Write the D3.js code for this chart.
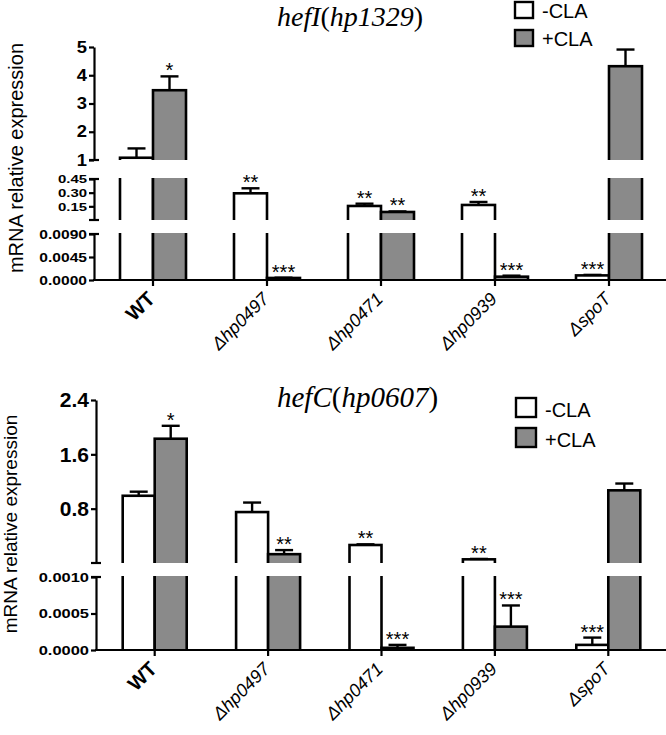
<!DOCTYPE html>
<html>
<head>
<meta charset="utf-8">
<script src="https://cdn.jsdelivr.net/npm/d3@7"></script>
<style>
  body { margin: 0; background: #fff; }
  #chart { position: relative; width: 666px; height: 735px; }
  svg { display: block; font-family: Arial, "Liberation Sans", sans-serif; }
  .xlab {
    position: absolute;
    white-space: nowrap;
    line-height: 1;
    font-family: Arial, "Liberation Sans", sans-serif;
    color: #000;
  }
</style>
</head>
<body>
<div id="chart"></div>
<script>
const categories = ["WT", "Δhp0497", "Δhp0471", "Δhp0939", "ΔspoT"];
const series = ["-CLA", "+CLA"];

// hefI(hp1329)
const hefIMinus = [1.08, 0.293, 0.154, 0.165, 0.0009];
const hefIMinusErr = [0.33, 0.055, 0.025, 0.033, 0.0001];
const hefIPlus = [3.47, 0.0004, 0.088, 0.00065, 4.32];
const hefIPlusErr = [0.49, 0.00005, 0.006, 0.0002, 0.59];
const hefIStarsMinus = ["", "**", "**", "**", "***"];
const hefIStarsPlus = ["*", "***", "**", "***", ""];

// hefC(hp0607)
const hefCMinus = [0.99, 0.75, 0.265, 0.054, 0.00007];
const hefCMinusErr = [0.06, 0.14, 0.01, 0.006, 0.0001];
const hefCPlus = [1.83, 0.13, 0.00003, 0.00032, 1.07];
const hefCPlusErr = [0.19, 0.06, 0.00004, 0.00029, 0.1];
const hefCStarsMinus = ["", "", "**", "**", "***"];
const hefCStarsPlus = ["*", "**", "***", "***", ""];

// broken y axis ticks
const hefITicks = [[1, 2, 3, 4, 5], [0.15, 0.3, 0.45], [0, 0.0045, 0.009]];
const hefCTicks = [[0.8, 1.6, 2.4], [0, 0.0005, 0.001]];

const width = 666;
const height = 735;
const grey = "#8a8a8a";

const chart = d3.select("#chart");
const svg = chart
  .append("svg")
  .attr("width", width)
  .attr("height", height);

const panels = [
  {
    id: "hefI",
    gene: "hefI",
    locus: "hp1329",
    titleY: 26,
    titleSize: 28,
    axisX: 94,
    xRange: [96, 666],
    barW: 33,
    baseY: 280,
    minus: hefIMinus,
    minusErr: hefIMinusErr,
    plus: hefIPlus,
    plusErr: hefIPlusErr,
    starsMinus: hefIStarsMinus,
    starsPlus: hefIStarsPlus,
    segments: [
      { lo: 1, hi: 5, y0: 160, y1: 47, ticks: hefITicks[0], fmt: d3.format("d"), size: 16, sx: 1.15 },
      { lo: 0, hi: 0.45, y0: 220, y1: 179, ticks: hefITicks[1], fmt: d3.format(".2f"), size: 11.5, sx: 1.3 },
      { lo: 0, hi: 0.009, y0: 280, y1: 234, ticks: hefITicks[2], fmt: d3.format(".4f"), size: 13, sx: 1.2 },
    ],
    legend: { x: 515, y: 2, w: 18, h: 16, gap: 28 },
    ylab: { x: 23, y: 158, size: 20 },
  },
  {
    id: "hefC",
    gene: "hefC",
    locus: "hp0607",
    titleY: 407,
    titleSize: 29,
    axisX: 96,
    xRange: [98, 665],
    barW: 32,
    baseY: 650,
    minus: hefCMinus,
    minusErr: hefCMinusErr,
    plus: hefCPlus,
    plusErr: hefCPlusErr,
    starsMinus: hefCStarsMinus,
    starsPlus: hefCStarsPlus,
    segments: [
      { lo: 0, hi: 2.4, y0: 563, y1: 400, ticks: hefCTicks[0], fmt: d3.format(".1f"), size: 21, sx: 1 },
      { lo: 0, hi: 0.001, y0: 650, y1: 577, ticks: hefCTicks[1], fmt: d3.format(".4f"), size: 13.5, sx: 1.22 },
    ],
    legend: { x: 516, y: 398, w: 20, h: 19, gap: 30 },
    ylab: { x: 17, y: 524, size: 19 },
  },
];

const defs = svg.append("defs");

panels.forEach(drawPanel);

function drawPanel(p) {
  const g = svg.append("g");
  const segs = p.segments;

  const x0 = d3.scaleBand().domain(categories).range(p.xRange);
  const x1 = d3.scaleBand().domain(series).range([0, 2 * p.barW]);
  const barX = (cat, s) => x0(cat) + x0.bandwidth() / 2 - p.barW + x1(s);

  // which segment of the broken axis a value lives in
  const segIndex = (v) => {
    for (let i = 0; i < segs.length - 1; i++) {
      if (v > segs[i + 1].hi) return i;
    }
    return segs.length - 1;
  };

  segs.forEach((seg) => {
    seg.y = d3.scaleLinear().domain([seg.lo, seg.hi]).range([seg.y0, seg.y1]);
  });

  const bars = [];
  categories.forEach((cat, j) => {
    bars.push({ cat, s: "-CLA", v: p.minus[j], err: p.minusErr[j], star: p.starsMinus[j], fill: "#fff" });
    bars.push({ cat, s: "+CLA", v: p.plus[j], err: p.plusErr[j], star: p.starsPlus[j], fill: grey });
  });
  bars.forEach((b) => (b.k = segIndex(b.v)));

  // bars, clipped segment by segment
  segs.forEach((seg, i) => {
    const clipId = `clip-${p.id}-${i}`;
    defs
      .append("clipPath")
      .attr("id", clipId)
      .append("rect")
      .attr("x", 0)
      .attr("y", seg.y1 - 1)
      .attr("width", width)
      .attr("height", seg.y0 - seg.y1 + 1);

    const sg = g.append("g").attr("clip-path", `url(#${clipId})`);
    sg.selectAll("rect")
      .data(bars.filter((b) => b.k <= i))
      .join("rect")
      .attr("x", (b) => barX(b.cat, b.s))
      .attr("width", x1.bandwidth())
      .attr("y", (b) => (b.k < i ? seg.y1 - 10 : seg.y(b.v)))
      .attr("height", (b) => seg.y0 + 10 - (b.k < i ? seg.y1 - 10 : seg.y(b.v)))
      .attr("fill", (b) => b.fill)
      .attr("stroke", "#000")
      .attr("stroke-width", 2.6);
  });

  // error bars + significance stars
  bars.forEach((b) => {
    const ys = segs[b.k].y;
    const cx = barX(b.cat, b.s) + x1.bandwidth() / 2;
    const yTop = ys(b.v + b.err);
    g.append("line")
      .attr("x1", cx)
      .attr("x2", cx)
      .attr("y1", ys(b.v))
      .attr("y2", yTop)
      .attr("stroke", "#000")
      .attr("stroke-width", 2.4);
    g.append("line")
      .attr("x1", cx - 9)
      .attr("x2", cx + 9)
      .attr("y1", yTop)
      .attr("y2", yTop)
      .attr("stroke", "#000")
      .attr("stroke-width", 2.4);
    if (b.star) {
      g.append("text")
        .attr("x", cx)
        .attr("y", yTop + 1)
        .attr("text-anchor", "middle")
        .style("font-size", "20px")
        .text(b.star);
    }
  });

  // y axis pieces
  segs.forEach((seg, i) => {
    const ax = g
      .append("g")
      .attr("transform", `translate(${p.axisX},0)`)
      .call(
        d3.axisLeft(seg.y).tickValues(seg.ticks).tickFormat(seg.fmt).tickSize(5).tickSizeOuter(0)
      );
    ax.select(".domain").attr("stroke-width", 2.2);
    ax.selectAll(".tick line").attr("stroke-width", 2.2);
    ax.selectAll(".tick text")
      .attr("x", -7 / seg.sx)
      .attr("transform", `scale(${seg.sx},1)`)
      .attr("fill", "#000")
      .style("font-family", "Arial, 'Liberation Sans', sans-serif")
      .style("font-weight", "bold")
      .style("font-size", seg.size + "px");

    // caps where the axis is broken
    const caps = [];
    if (i > 0) caps.push(seg.y1);
    if (i < segs.length - 1) caps.push(seg.y0);
    caps.forEach((cy) => {
      g.append("line")
        .attr("x1", p.axisX - 5)
        .attr("x2", p.axisX + 5)
        .attr("y1", cy)
        .attr("y2", cy)
        .attr("stroke", "#000")
        .attr("stroke-width", 2.2);
    });
  });

  // x axis
  g.append("line")
    .attr("x1", p.axisX - 1)
    .attr("x2", width)
    .attr("y1", p.baseY)
    .attr("y2", p.baseY)
    .attr("stroke", "#000")
    .attr("stroke-width", 2.2);

  const xa = g
    .append("g")
    .attr("transform", `translate(0,${p.baseY})`)
    .call(d3.axisBottom(x0).tickSize(6).tickSizeOuter(0));
  xa.select(".domain").remove();
  xa.selectAll(".tick line").attr("stroke-width", 2.2);
  xa.selectAll(".tick text").remove();

  // slanted category labels as html, pivoting on the end of the baseline
  chart
    .selectAll(`div.xlab-${p.id}`)
    .data(categories)
    .join("div")
    .attr("class", `xlab xlab-${p.id}`)
    .style("right", (d) => `${width - (x0(d) + x0.bandwidth() / 2 + 3)}px`)
    .style("top", (d) => `${p.baseY + 20 - (d === "WT" ? 17 : 15.2)}px`)
    .style("transform-origin", (d) => `100% ${d === "WT" ? 17 : 15.2}px`)
    .style("transform", "rotate(-45deg)")
    .style("font-size", (d) => (d === "WT" ? "20px" : "18px"))
    .style("font-weight", (d) => (d === "WT" ? "bold" : "normal"))
    .style("font-style", (d) => (d === "WT" ? "normal" : "italic"))
    .text((d) => d);

  // y label
  g.append("text")
    .attr("transform", `translate(${p.ylab.x},${p.ylab.y}) rotate(-90)`)
    .attr("text-anchor", "middle")
    .style("font-size", p.ylab.size + "px")
    .text("mRNA relative expression");

  // title: italic gene names, upright brackets, laid out piece by piece
  const titleParts = [
    { t: p.gene, it: true },
    { t: "(", it: false },
    { t: p.locus, it: true },
    { t: ")", it: false },
  ];
  let tx = 277;
  titleParts.forEach((part) => {
    const t = g
      .append("text")
      .attr("x", tx)
      .attr("y", p.titleY)
      .style("font-family", "'Liberation Serif', 'Times New Roman', serif")
      .style("font-size", p.titleSize + "px")
      .style("font-style", part.it ? "italic" : "normal")
      .text(part.t);
    tx += t.node().getComputedTextLength();
  });

  // legend
  const lg = g.append("g");
  series.forEach((s, i) => {
    const ly = p.legend.y + i * p.legend.gap;
    lg.append("rect")
      .attr("x", p.legend.x)
      .attr("y", ly)
      .attr("width", p.legend.w)
      .attr("height", p.legend.h)
      .attr("fill", i === 0 ? "#fff" : grey)
      .attr("stroke", "#000")
      .attr("stroke-width", 2.4);
    lg.append("text")
      .attr("x", p.legend.x + p.legend.w + 9)
      .attr("y", ly + p.legend.h)
      .style("font-size", "20px")
      .text(s);
  });
}
</script>
</body>
</html>
